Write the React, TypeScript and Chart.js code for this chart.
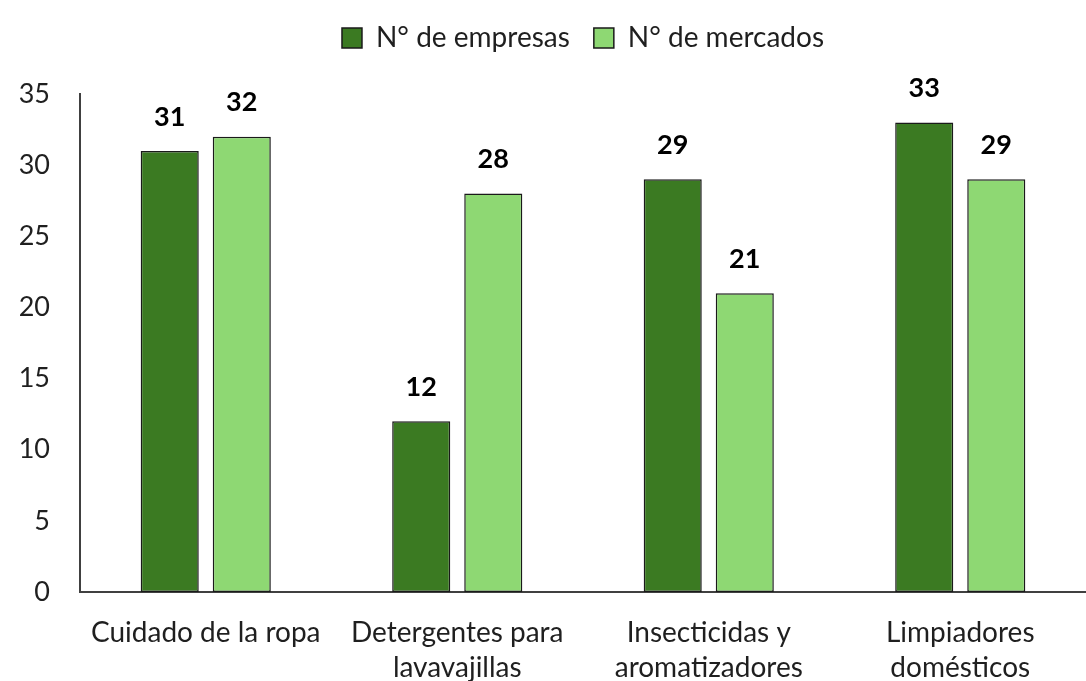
import React, { useEffect, useRef } from "react";
import { Chart, registerables } from "chart.js";

Chart.register(...registerables);

const categories: (string | string[])[] = [
  "Cuidado de la ropa",
  ["Detergentes para", "lavavajillas"],
  ["Insecticidas y", "aromatizadores"],
  ["Limpiadores", "domésticos"],
];
const empresas = [31, 12, 29, 33];
const mercados = [32, 28, 21, 29];
const seriesNames = ["N° de empresas", "N° de mercados"];
const yTicks = [0, 5, 10, 15, 20, 25, 30, 35];

const FONT = "Lato, 'Open Sans', sans-serif";
const TEXT = "#1f1f1f";

const valueLabels = {
  id: "valueLabels",
  afterDatasetsDraw(chart: any) {
    const ctx = chart.ctx;
    ctx.save();
    ctx.font = `bold 27px ${FONT}`;
    ctx.fillStyle = "#000";
    ctx.textAlign = "center";
    ctx.textBaseline = "middle";
    chart.data.datasets.forEach((ds: any, i: number) => {
      const meta = chart.getDatasetMeta(i);
      meta.data.forEach((bar: any, j: number) => {
        ctx.fillText(String(ds.data[j]), bar.x, bar.y - 34);
      });
    });
    ctx.restore();
  },
};

const legendShift = {
  id: "legendShift",
  afterLayout(chart: any) {
    const lg = chart.legend;
    if (!lg) return;
    const shift = 32;
    lg.top -= shift;
    lg.bottom -= shift;
    lg.left = chart.chartArea.left;
    lg.right = chart.chartArea.right;
  },
};

export default function App() {
  const ref = useRef<HTMLCanvasElement>(null);
  useEffect(() => {
    if (!ref.current) return;
    const chart = new Chart(ref.current, {
      type: "bar",
      data: {
        labels: categories,
        datasets: [
          {
            label: seriesNames[0],
            data: empresas,
            backgroundColor: "#3B7A22",
            borderColor: "#1a1a1a",
            borderWidth: 1.5,
            borderSkipped: false,
            categoryPercentage: 0.573,
            barPercentage: 0.806,
          },
          {
            label: seriesNames[1],
            data: mercados,
            backgroundColor: "#8ED873",
            borderColor: "#1a1a1a",
            borderWidth: 1.5,
            borderSkipped: false,
            categoryPercentage: 0.573,
            barPercentage: 0.806,
          },
        ],
      },
      options: {
        animation: false,
        responsive: false,
        layout: { padding: { top: 32, left: 0, right: 0, bottom: 0 } },
        plugins: {
          legend: {
            position: "top",
            labels: {
              boxWidth: 20,
              boxHeight: 20,
              padding: 24,
              color: TEXT,
              font: { family: FONT, size: 28 },
            },
          },
          tooltip: { enabled: false },
        },
        scales: {
          x: {
            grid: { display: false, drawTicks: false },
            border: { display: true, color: "#404040", width: 2 },
            ticks: {
              color: TEXT,
              padding: 23,
              font: { family: FONT, size: 28, lineHeight: 35 / 28 },
              maxRotation: 0,
              autoSkip: false,
            },
            afterFit: (s: any) => {
              s.height = 108;
            },
          },
          y: {
            min: 0,
            max: 35,
            afterBuildTicks: (s: any) => {
              s.ticks = yTicks.map((v) => ({ value: v }));
            },
            grid: { display: false, drawTicks: false },
            border: { display: true, color: "#404040", width: 2 },
            ticks: {
              color: TEXT,
              padding: 30,
              font: { family: FONT, size: 27 },
            },
            afterFit: (s: any) => {
              s.width = 80;
            },
          },
        },
      },
      plugins: [valueLabels, legendShift],
    });
    return () => chart.destroy();
  }, []);
  return (
    <div style={{ position: "fixed", left: 0, top: 0, width: 1086, height: 700, background: "#fff" }}>
      <canvas ref={ref} width={1086} height={700} style={{ display: "block" }} />
    </div>
  );
}
